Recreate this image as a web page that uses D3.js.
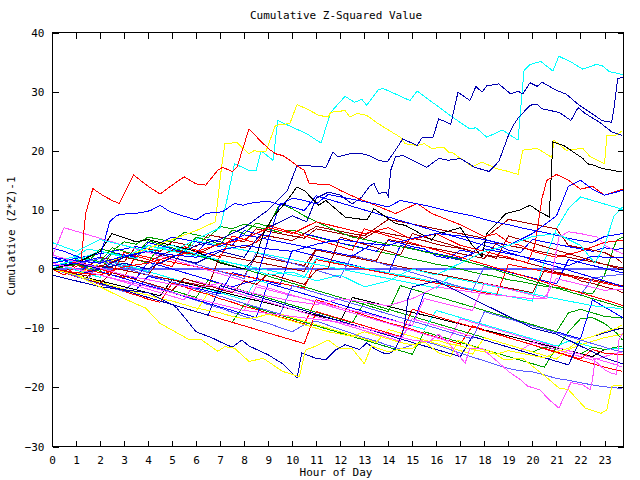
<!DOCTYPE html>
<html><head><meta charset="utf-8">
<script src="https://cdn.jsdelivr.net/npm/d3@7"></script>
<style>body{margin:0;background:#fff}svg{display:block}</style>
</head><body><svg id="c" width="640" height="480"></svg>
<script>
const title = "Cumulative Z-Squared Value";
const xLabel = "Hour of Day";
const yLabel = "Cumulative (Z*Z)-1";
const xTickValues = [0,1,2,3,4,5,6,7,8,9,10,11,12,13,14,15,16,17,18,19,20,21,22,23];
const yTickValues = [-30,-20,-10,0,10,20,30,40];
// half-hour sample times for the bundle series
const halfHours = d3.range(0, 24, 0.5).concat([23.75]);

// prominent series as [hour, value]
const cyanTop = [[0,0.5],[1,1.5],[2,3],[3,2],[4,4],[5,3],[6,5],[7,7],[7.3,12],[7.6,17.8],[8.2,16.7],[8.5,16.7],[8.7,20],[9.2,18.4],[9.4,25.1],[10,24],[10.6,22.9],[11.2,21.3],[11.6,26.5],[12.2,29.2],[12.6,28.2],[12.9,28.7],[13.1,27.7],[13.6,30.4],[13.8,30.5],[14.3,29.6],[14.9,28.5],[15.2,30.1],[15.7,28.6],[16.5,26.2],[16.7,25.6],[17.4,23.7],[17.65,23.9],[18.1,22.3],[18.75,23.5],[19.4,21.8],[19.65,33.6],[19.9,34.6],[20.35,35.1],[20.85,33.5],[21.1,36],[21.65,34.9],[22.1,33.8],[22.65,34.6],[22.9,34.4],[23.2,33.4],[23.75,32.9]];
const yellowTop = [[0,0],[1,-1],[2,1],[3,2],[4,3.5],[5,5],[6,6.5],[6.8,8],[7.05,17],[7.2,21.2],[7.7,21.4],[7.9,20.6],[8.2,19.5],[8.4,20],[8.9,19.8],[9.3,24.3],[9.9,24.6],[10.2,27.8],[10.6,27.1],[11.1,26],[11.5,25.7],[11.6,26.5],[12.2,26.8],[12.4,25.7],[12.7,26.3],[13.1,26],[13.5,24.8],[14.05,23.4],[14.5,22.3],[14.7,21.2],[15.2,20.9],[15.5,21.2],[15.8,20.4],[16.3,20.6],[16.5,19.8],[16.7,19.6],[17.5,17.3],[17.9,18.1],[18.5,17],[19,16.5],[19.4,16],[19.6,20.1],[20.2,20.4],[20.8,18.9],[20.9,21.8],[21.4,20.1],[22.1,20.4],[22.4,19],[23,17.8],[23.1,22.6],[23.45,22.6],[23.75,23.4]];
const navyTop = [[0,0],[1,1],[2,0],[3,2],[4,3],[5,2],[6,4],[7,5],[8,7],[9,10],[9.8,13.3],[10.2,17.5],[11,17.4],[11.4,17.2],[11.7,19.8],[11.9,19],[12.4,19.5],[12.8,19.6],[13.2,19.2],[13.6,18.4],[13.95,18.1],[14.2,19.5],[14.6,22],[15.2,20.9],[15.4,22.2],[15.85,22.2],[16.1,25.4],[16.6,24.5],[16.9,29.9],[17.4,28.5],[17.65,30.9],[17.9,29.9],[18.1,31],[18.6,31.3],[19.1,29.6],[19.4,30.1],[19.6,29.6],[19.9,31.5],[20.2,30.9],[20.4,31.6],[21,30.2],[21.4,29.6],[21.95,27.7],[22.4,26.5],[22.9,25.1],[23.3,24.8],[23.4,27.4],[23.55,32.2],[23.75,32.4]];
const navySecond = [[0,0],[1,-1],[2,0],[3,1],[4,0],[5,2],[6,1],[7,3],[8,2],[8.5,5],[9,7],[10,9],[10.6,8],[11,12],[11.5,13],[12,12.5],[12.5,11],[12.9,12.2],[13.2,13.9],[13.4,14.5],[13.6,12.8],[13.9,13],[14,12.2],[14.1,16.7],[14.3,19],[14.6,19.2],[15.6,17.2],[16.1,18.7],[16.5,18.4],[17,18.7],[17.6,17.2],[18.2,16.5],[18.6,18.2],[19,22.6],[19.2,24.3],[19.4,25.5],[19.9,27.7],[20.2,27.9],[20.4,27.1],[21.1,26.5],[21.3,26],[21.6,25.1],[21.9,27.3],[22.2,26.3],[22.8,24.8],[23.3,23.2],[23.75,22.6]];
const blackJump = [[0,0],[1,1],[2,3],[2.5,6],[3.5,4.6],[4,5],[5,4],[6,3],[7,1],[8,0],[8.5,2.1],[8.8,6],[9.2,8.8],[9.7,11.1],[10.2,13.9],[10.5,13.3],[11.1,10.8],[11.4,11.6],[12.2,8.8],[13.1,8.3],[13.4,10.2],[14.3,7.7],[14.7,7.4],[15.2,6.3],[15.6,5.4],[15.8,4.9],[16,6],[16.4,6.3],[17,7],[17.5,4],[17.9,2.1],[18.1,6],[18.9,9.4],[19.5,10],[19.9,10.8],[20.3,9.7],[20.7,8.8],[20.85,21.5],[21.3,20.9],[21.7,19.8],[22.1,18.7],[22.3,17.8],[22.6,17.5],[22.9,17],[23.75,16.4]];
const redHigh = [[0,0],[0.5,-1],[1.2,1],[1.4,9.4],[1.7,13.6],[2.1,12.5],[2.5,11.6],[2.8,11.1],[3.4,15.9],[4,14],[4.5,12.7],[4.9,13.9],[5.5,15.6],[6,14.4],[6.4,14.2],[6.9,16.7],[7.1,17.2],[7.5,16.5],[7.7,17.2],[8.2,23.7],[8.6,22],[9,20.4],[9.3,19.5],[9.6,19.2],[9.9,18.4],[10.3,17.2],[10.5,16.7],[10.7,14.5],[11.6,14.2],[12,13.3],[12.7,12],[13.1,11.4],[14.3,9.4],[15.2,11.1],[15.8,9.4],[16.5,8.3],[17,7.5],[17.5,6.5],[18,5.5],[18.5,6],[19,4.5],[19.5,4],[20,3],[21,2],[22,3],[23,4.5],[23.75,4.9]];
const blueUpper = [[0,0.5],[1,1],[2,2],[2.4,8],[2.7,9.1],[3.2,9.4],[3.7,9.5],[4.1,9.9],[4.5,10.8],[4.9,9.7],[6,8.3],[6.4,9.4],[7.1,9.7],[7.6,11.1],[7.95,10.8],[8.2,11.1],[9,11.5],[9.5,10.8],[10,12],[10.5,11.6],[11,11],[11.5,12.6],[12,12.2],[12.5,11.8],[13,11.4],[13.5,11],[14,10.5],[14.5,11.6],[15,11.2],[15.5,10.8],[16,10.3],[16.5,9.8],[17,9.4],[17.5,9],[18,8.4],[18.5,7.9],[19,7.5],[19.5,7],[20,6.6],[20.5,6.2],[21,5.7],[21.5,5.2],[22,4.8],[22.5,4.5],[23,5.5],[23.75,6]];
const redRight = [[0,0],[1,-0.6],[2,-1],[3,0.4],[4,1],[5,2.2],[6,3],[7,4.2],[8,5],[9,7],[10,6],[11,8],[12,7],[13,6],[14,7],[15,5],[16,6],[17,4],[18,3],[19,2],[19.8,1],[20.1,4],[20.4,12],[20.6,15],[21,16],[21.5,15],[22,13.5],[22.5,14],[23,12.5],[23.75,13.5]];
const blueRight = [[0,2],[1,1.4],[2,1],[3,2.2],[4,3],[5,2.4],[6,2],[7,3.2],[8,4],[9,3.4],[10,3],[11,4.2],[12,5],[13,4.4],[14,4],[15,5.2],[16,6],[17,5.6],[18,5],[19,4],[20,6],[21,9],[21.5,14],[22,15],[22.5,13.5],[23,12.5],[23.75,13.3]];
const cyanRight = [[0,4.5],[1,3],[2,5],[3,4],[4,3],[5,4],[6,2.5],[7,1.5],[8,0.5],[9,-1],[10,-0.5],[11,-2],[12,-1],[13,-3],[14,-2],[15,0],[16,-1],[17,1],[18,3],[19,4],[20,5.5],[21,6],[22,4],[22.6,1],[23,4],[23.4,9],[23.75,10.5]];
const magentaJump = [[0,2.4],[1,1.2],[2,0.2],[3,-1],[4,-1.8],[5,-2.6],[6,-3.2],[7,-2.4],[8,-3.8],[9,-4.6],[10,-5.4],[11,-6],[12,-5],[13,-5.6],[14,-6.2],[15,-5],[16,-3],[17,-3.6],[18,-4.2],[19,-4.6],[20,-5],[20.6,-5],[20.9,1],[21.1,5.4],[21.5,6.3],[22,6],[22.7,5.4],[23.1,3.8],[23.75,2.6]];
const navyBottom = [[0,-1],[1,-2],[2,-3],[3,-3.5],[4,-4],[5,-6],[5.2,-6.6],[6,-10.6],[6.7,-11.7],[7,-12.3],[7.5,-13.2],[7.9,-12],[8.2,-13],[9,-14.5],[9.6,-16],[10.2,-18.4],[10.4,-14.2],[11,-15.1],[11.4,-15.3],[11.8,-13.7],[12.2,-12.8],[12.8,-13.6],[13.1,-12.5],[13.4,-13.4],[13.8,-14.2],[14.05,-14.3],[14.3,-13.4],[14.6,-10.8],[14.75,-7.5],[14.8,-5.2],[15,-3],[16,-2],[17,-4],[18,-6],[19,-8],[20,-10],[21,-11],[22,-13],[23,-15],[23.75,-16]];
const yellowBottom = [[0,0],[1,-1],[2,-3],[3,-5],[3.9,-6.6],[4.5,-9.2],[5.7,-11.9],[6.2,-11.9],[6.9,-13.9],[7.2,-13.1],[7.6,-13.4],[8.2,-15.6],[8.8,-15.1],[9.6,-17.3],[10.3,-18.2],[10.55,-13.7],[11,-13],[11.5,-12],[12,-13.5],[12.5,-13.5],[13,-16],[13.3,-13],[14,-14],[14.5,-13.5],[15,-13.5],[15.4,-12],[16.1,-14.2],[16.6,-14.8],[16.9,-12],[17.7,-13.4],[18.3,-13.9],[18.8,-15.3],[19.6,-15.1],[20.7,-18.7],[21.1,-20.1],[21.5,-20.4],[22.2,-23.5],[22.85,-24.4],[23.1,-23.8],[23.3,-19.8],[23.75,-19.6]];
const magentaBottom = [[0,1],[2,-1],[4,-3],[6,-5],[8,-7],[10,-8],[12,-9],[13,-10],[14,-11],[15,-12],[15.7,-12.3],[16.1,-11],[16.6,-13],[17.2,-15.9],[17.4,-13.4],[17.9,-13.4],[18.5,-15.5],[19,-17.3],[19.5,-18.7],[19.8,-19.8],[20.3,-20.4],[20.7,-22.1],[21.1,-23.5],[21.6,-19.2],[22.1,-19.6],[22.4,-20.4],[22.5,-18.7],[22.6,-15.5],[23,-17],[23.3,-17.6],[23.5,-17.8],[23.6,-12],[23.75,-10.8]];
const zeroLine = [[0,0],[23.75,0]];

// bundle series, values at halfHours (rows of 10,10,10,10,8 + end)
const c01 = [0,0.8,1.6,1.2,3.4,3,4.6,4.2,5.4,5, 4.6,6.2,5.8,5.3,7.2,6.8,7.6,7.1,6.7,6.2, 6.6,6,5.4,4.9,4.4,3.9,3.5,3,2.6,2.2, 1.7,1.3,0.8,0.5,0,-0.5,-0.9,-1.3,-1.8,-2.1, -2.5,-2.9,-3.1,-3.5,-3.9,-4.2,-1,4.9, 5.4];
const c02 = [0,-0.5,0.8,0.4,2,1.6,1.2,3.8,3.4,3, 4.6,4.2,3.8,5.8,5.4,5,4.6,6.8,6.4,6, 5.6,5.2,6.8,6.4,6,5.6,5.2,6.4,6,5.6, 5.2,4.8,4.2,3.8,3.5,3,2.4,2.1,1.8,1.4, 0.8,0.3,-0.5,-1,-2,-2.4,-3,-3.5, -4];
const c03 = [3.5,3,2.2,1.6,1,2.8,2.4,2,4.5,4, 3.4,3,2.6,5,4.6,4,6.5,6,5.6,5.2, 4.8,6,5.5,5,4.4,4,3.5,3,4.8,4.4, 3.8,3.4,2.2,1.8,3.2,2.8,4.6,4.2,3.2,2.8, 5,4.6,4.2,3.8,3.4,3,3.6,3.3, 3.5];
const c04 = [0,-0.6,-1.3,-1.8,-2.6,-3.1,-3.8,-4.4,-5.1,-5.6, -2.4,-3,-3.7,-4.3,-5,-5.6,-6.3,-6.8,-7.5,-8.1, -8.7,-9.3,-5.2,-5.8,-6.5,-7.1,-7.8,-8.4,-9.1,-9.6, -10.2,-10.9,-11.5,-12.1,-12.7,-9.6,-10.3,-10.9,-11.6,-12.2, -12.8,-13.5,-14.1,-14.7,-15.4,-16,-16.6,-17.1, -17.3];
const c05 = [0,-0.5,-1.1,0.6,0,-0.6,-1.2,-1.8,-2.4,-3, -3.6,-4.2,-4.8,-1.9,-2.5,-3.1,-3.7,-4.3,-4.9,-5.5, -6.1,-6.7,-7.3,-7.9,-8.5,-9.1,-5.6,-6.2,-6.8,-7.4, -8,-8.6,-9.2,-9.8,-10.4,-11,-11.6,-12.2,-12.8,-13.4, -14,-13.2,-13.6,-10.6,-8.4,-8.2,-9.2,-10.8, -12];
const c06 = [0,-0.6,-1.2,-1.9,-2.5,-3.2,-3.8,-1.8,-2.5,-3.2, -3.9,-4.6,-5.3,-6,-6.6,-7.3,-8,-8.6,-9.2,-9.9, -10.6,-9.4,-8.8,-9.5,-10.2,-10.9,-11.6,-12.2,-12.9,-13.5, -12.8,-12.2,-12.8,-13.5,-14.2,-14.9,-15.5,-16.2,-16.8,-17.2, -17.4,-17.9,-18.5,-18.8,-19.2,-19.6,-19.9,-20.1, -20.3];
const c07 = [0,0.4,-0.2,-0.8,-1.4,1.4,0.8,0.2,-0.4,-1, -1.6,-2.2,-2.8,-3.4,-4,-4.6,-5.2,-1.8,-2.4,-3, -3.6,-4.2,-4.8,-5.4,-6,-6.6,-7.2,-7.8,-8.4,-9, -9.6,-10.2,-7,-7.6,-8.2,-8.8,-9.4,-10,-10.6,-11.2, -11.8,-12.4,-13,-12.2,-12.6,-13.2,-13.6,-13.4, -13.4];
const c08 = [0,-0.4,-0.8,-1.2,0.6,0.2,-0.2,-0.6,-1,1.6, 1.2,0.8,0.4,0,-0.4,-0.8,-1.2,2.2,1.8,1.4, 1,0.6,3.4,3,2.6,2.2,1.8,1.4,5,4.6, 4.2,3.8,3.4,3,2.6,2.2,1.8,4.4,4,3.6, 3.2,2.8,2.4,2,1.6,1.2,0.8,0.4, 0.2];
const c09 = [0,-0.5,-1,-1.5,-2,-2.5,-3,-3.5,-1.2,-1.7, -2.2,-2.7,-3.2,-3.7,-4.2,-0.6,-1.1,-1.6,-2.1,-2.6, 3.2,2.7,2.2,1.7,1.2,0.7,0.2,-0.3,-0.8,4, 3.5,3,2.5,2,1.5,1,0.5,0,-0.5,-1, -1.5,-2,-2.5,1.6,1.1,0.6,0.1,-0.4, -0.6];
const c10 = [0,-0.5,-1,-1.5,-2,-2.5,-3,-3.5,-4,-4.5, -1.8,-2.3,-2.8,-3.3,-3.8,-4.3,-4.8,-5.3,-5.8,-6.3, -6.8,-7.3,-7.8,-8.3,-8.8,-4.8,-5.3,-5.8,-6.3,-6.8, -7.3,-7.8,-8.3,-8.8,-9.3,-9.8,-10.3,-10.8,-11.3,-11.8, -12.3,-12.8,-13.3,-13.8,-14.3,-14.8,-13.6,-13.2, -13];
const c11 = [0,-0.6,-1.2,-1.8,-2.4,-3,-3.6,-4.2,-4.8,-5.4, -6,-6.6,-7.2,-4,-4.6,-5.2,-5.8,-6.4,-7,-7.6, -8.2,-8.8,-9.4,-10,-10.6,-11.2,-11.8,-12.4,-10.2,-10.8, -11.4,-12,-12.6,-13.2,-13.8,-14.4,-11.6,-12.2,-12.8,-13.4, -14,-14.6,-15.2,-13.6,-12.8,-12.2,-11.6,-11.2, -11];
const c12 = [1,0.5,0,-0.5,-1,-1.6,-2.2,-2.8,-3.4,-4, -4.6,-5.2,-2,-2.6,-3.2,-3.8,-4.4,-5,-5.6,-6.2, -6.8,-7.4,-8,-8.6,-9.2,-9.8,-10.4,-11,-11.6,-12.2, -8.4,-9,-9.6,-10.2,-10.8,-11.4,-12,-12.6,-13.2,-13.8, -12.4,-13,-13.6,-14.2,-14.8,-15.4,-14.8,-14.2, -14];
const c13 = [0,-0.6,-1.2,-1.8,-2.4,-3,-3.6,-4.2,-4.8,-5.4, -6,-6.6,-7.2,-7.8,-8.4,-9,-6,-6.6,-7.2,-7.8, -8.4,-9,-9.6,-10.2,-10.8,-11.4,-12,-12.6,-13.2,-13.8, -14.4,-10.6,-11.2,-11.8,-12.4,-13,-13.6,-14.2,-14.8,-15.4, -16,-16.6,-13.2,-13.8,-14.4,-13.2,-13.6,-13.2, -13];
const c14 = [0,0.4,0.8,-0.2,-0.6,-1,-1.4,2.4,2,1.6, 1.2,0.8,0.4,0,-0.4,-0.8,-1.2,-1.6,-2,-2.4, -2.8,-3.2,1.6,1.2,0.8,0.4,0,-0.4,-0.8,-1.2, -1.6,-2,-2.4,-2.8,-3.2,-3.6,-4,-4.4,0.8,0.4, 0,-0.4,-0.8,-1.2,-1.6,-2,-2.4,-2.8, -3];
const c15 = [0,1,2,1.6,1.2,0.8,0.4,0,-0.4,2.4, 3,2.6,2.2,1.8,1.4,1,0.6,0.2,-0.2,-0.6, -1,-1.4,1.8,1.4,1,0.6,0.2,-0.2,-0.6,-1, -1.4,-1.8,-2.2,-2.6,-3,-3.4,-3.8,-4.2,-4.6,-5, -5.4,1.4,6.8,10.2,12.2,11.6,11,10.4, 10];
const c16 = [2,1.4,0.8,0.2,-0.4,-1,-1.6,-2.2,-2.8,-3.4, -4,-4.6,-5.2,-5.8,-6.4,-7,-7.6,-8.2,-2.4,-3, -3.6,-4.2,-4.8,-5.4,-6,-6.6,-7.2,-7.8,-8.4,-9, -9.6,-4,-4.6,-5.2,-5.8,-6.4,-7,-7.6,-8.2,-8.8, -9.4,-10,-10.6,-11.2,-11.8,-5.2,-6.4,-7.6, -8.2];
const c17 = [0,-0.4,-0.8,-1.2,0.6,0.2,-0.2,-0.6,-1,-1.4, -1.8,-2.2,-2.6,-3,2.4,2,1.6,1.2,0.8,0.4, 0,-0.4,3.2,2.8,2.4,2,1.6,1.2,0.8,0.4, 0,-0.4,-0.8,-1.2,-1.6,-2,-2.4,-2.8,-3.2,-3.6, -4,-0.2,-0.6,-1,-1.4,-1.8,-2.2,-2.6, -2.8];
const c18 = [2,7,6.4,5.8,5.2,4.6,4,3.4,2.8,2.2, 1.6,1,0.4,-0.2,-0.8,-1.4,-2,-2.6,-3.2,-3.8, -4.4,-5,-5.6,-6.2,-6.8,-7.4,-8,-8.6,-9.2,-9.8, -10.4,-11,-11.6,-12.2,-8.4,-9,-9.6,-10.2,-10.8,-11.4, -12,-12.6,-13.2,-13.8,-14.4,-15,-15.6,-16.2, -16.6];
const c19 = [0,0.4,0.8,1.3,1.8,1.2,0.6,0,-0.6,2.6, 2,1.4,0.8,0.2,-0.4,-1,-1.6,2.8,2.2,1.6, 1,0.4,-0.2,-0.8,-1.4,2.4,1.8,1.2,0.6,0, -0.6,-1.2,-1.8,-2.4,-3,-3.6,0.4,-0.2,-0.8,-1.4, -2,-2.6,-3.2,-3.8,-4.4,-1.6,-1.2,-1, -1];
const c20 = [0,0.4,0.8,0.2,-0.4,2.8,2.2,1.6,1,4.2, 3.6,3,2.4,1.8,1.2,0.6,0,-0.6,-1.2,-1.8, -2.4,-3,-3.6,-4.2,-4.8,-5.4,-6,-6.6,-7.2,-2.8, -3.4,-4,-4.6,-5.2,-5.8,-6.4,-7,-7.6,-8.2,-8.8, -9.4,-10,-10.6,-7.4,-6.8,-7.4,-8,-8.2, -8.3];
const c21 = [0,-0.6,-1.2,-1.8,-2.4,-3,-3.6,-4.2,-4.8,-5.4, -6,-6.6,-7.2,-7.8,-8.4,-9,-9.6,-10.2,-10.8,-11.4, -12,-12.6,-7.2,-7.8,-8.4,-9,-9.6,-10.2,-10.8,-11.4, -6.8,-7.4,-8,-8.6,-9.2,-9.8,-10.4,-11,-11.6,-12.2, -12.8,-13.4,-14,-14.6,-15.2,-13.6,-14.2,-14.4, -14.5];
const c22 = [0,-0.6,-1.2,-1.8,-2.4,-3,-3.6,-4.2,-4.8,-5.4, -6,-6.6,-7.2,-7.8,-2.8,-3.4,-4,-4.6,-5.2,-5.8, -6.4,-7,-7.6,-8.2,-8.8,-9.4,-10,-10.6,-11.2,-11.8, -12.4,-13,-13.6,-14.2,-14.8,-11.4,-12,-12.6,-13.2,-13.8, -14.4,-15,-15.6,-16.2,-12,-11.4,-10.8,-10.2, -10];
const c23 = [0,-0.5,-1,-1.6,-2.2,-2.8,-3.4,-4,-4.4,-5, -5.4,-6,-6.6,-7,-7.4,-8,-8.4,-8.2,-7.6,-8.2, -8.8,-9.4,-10,-10.6,-11,-11.4,-10.6,-11.2,-11.8,-12.4, -12.8,-12.4,-12,-12.6,-13,-13.6,-14,-14.4,-13.8,-14.2, -14.6,-15,-14,-13.4,-12,-11.4,-10.6,-10, -9.4];
const c24 = [1,1.6,2.2,3.4,3,2.6,2.2,1.8,4,3.6, 3.2,2.8,4.8,4.4,4,3.6,3.2,2.8,2.4,2, 1.6,1.2,0.8,0.4,0,-0.4,-0.8,-1.2,-1.6,-2, -2.4,-2.8,-3.2,-1.4,-1.8,-2.2,-2.6,-3,-3.4,-3.8, -4.2,-4.6,-5,-5.4,-5.8,-6.2,-6.4,-6.6, -6.8];
const c25 = [0,0.6,1.2,0.8,0.4,1.2,2,1.6,1.2,2.2, 3.2,2.8,2.4,3.4,4.4,4,3.6,4.6,5.6,5.2, 4.8,6,7.2,6.8,6.4,6,5.6,7,8.4,8, 7.6,7.2,6.8,6.4,6,5.6,5.2,6.8,8.4,8, 7.6,7.2,6.8,4,3.6,3.2,2.8,1.8, 1];
const c26 = [1,1.4,1.8,2.2,2.6,3,3.4,3.8,3.4,4.4, 5.4,5,4.6,4.2,3.8,4.8,5.8,5.4,5,4.6, 4.2,3.8,3.4,3,2.6,2.2,3.4,4.6,4.2,3.8, 3.4,3,2.6,2.2,1.8,2.6,3.4,3,2.6,2.2, 1.8,1.4,1,0.6,1.4,2.2,2,1.9, 1.9];
const c27 = [0,0.6,1.2,1.8,1.2,3.6,3,2.4,4.8,4.2, 3.6,3,5.4,4.8,4.2,6.6,6,7.8,7.2,11.1, 10.2,9,8,7.1,6.2,5.4,5,4.6,4.2,3.8, 3.4,2.9,2.5,2.1,1.6,1,0.5,-0.2,-0.8,-1.4, -2,-2.6,-3.2,-3.8,-4.4,-5,-5.6,-6.2, -6.5];
const c28 = [0,-0.6,-1.2,0.8,0.2,-0.4,-1,-1.6,1.2,0.6, 0,-0.6,-1.2,-1.8,-2.4,-3,-2.4,-1.9,5,11.1, 10.5,9.9,12.4,11.8,11.2,10.6,10,9.4,8.8,8.2, 7.6,7,6.4,5.8,5.2,4.6,4,3.4,2.8,2.2, 1.6,1,0.4,-0.2,-0.8,-1.4,-2,-2.6, -3];
const c29 = [0,-0.6,-1.2,-1.8,-2.4,-0.6,-1.2,-1.8,-2.4,-3, -3.6,-1.6,-2.2,-2.8,-3.4,-4,-2,-2.6,-0.8,-1.4, -2,-2.6,-0.2,0.2,5.4,4.8,4.2,3.6,3,2.4, 6,5.4,4.8,4.2,3.6,3,2.4,1.8,5.6,5, 4.4,3.8,3.2,2.6,2,1.4,0.8,0.2, -0.2];
const c30 = [1,0.5,0,-0.5,-1,-1.5,-2,-2.5,-3,-3.5, -4,-4.5,-5,-5.5,-6,-6.5,-7,-3,-3.5,-4, -4.5,-5,-5.5,-6,-6.5,-7,-7.5,-8,-8.5,-9, -9.5,-5,-5.5,-6,-6.5,-7,-2.4,-2.9,-3.4,-3.9, -4.4,-4.9,-1.6,-2.1,-2.6,-3.1,-3.6,-3.4, -3.5];
const c31 = [0,0.6,1.2,0.6,0,-0.6,2.8,2.2,1.6,1, 0.4,3.8,3.2,2.6,2,5.6,5,4.4,7.4,6.8, 6.2,5.6,5,4.4,3.8,3.2,6.8,6.2,5.6,5, 4.4,3.8,3.2,2.6,2,1.4,0.8,0.2,-0.4,-1, -1.6,-2.2,-2.8,-3.4,-4,-4.6,-5.2,-5.8, -6.2];
const c32 = [0,-0.6,-1.2,-1.8,1.4,0.8,0.2,-0.4,-1,-1.6, -2.2,-2.8,-3.4,-4,-4.6,-5.2,-5.8,-6.4,-7,-7.6, -2.8,-3.4,-4,-4.6,-5.2,-5.8,-6.4,-7,-7.6,-8.2, -8.8,-9.4,-10,-10.6,-11.2,-11.8,-7.2,-7.8,-8.4,-9, -9.6,-10.2,-10.8,-11.4,-12,-12.6,-13.2,-13.8, -14];

const colors = {
  black:"#000000", red:"#ff0000", green:"#00a000", blue:"#0000ff", magenta:"#ff50ff",
  cyan:"#00ffff", darkred:"#a00000", yellow:"#ffff00", navy:"#0000b0", slate:"#5a5aff"
};

const pairSeries = [
  [cyanTop,"cyan"],[yellowTop,"yellow"],[navyTop,"navy"],[navySecond,"navy"],
  [blackJump,"black"],[redHigh,"red"],[blueUpper,"blue"],[redRight,"red"],
  [blueRight,"blue"],[cyanRight,"cyan"],[magentaJump,"magenta"],
  [navyBottom,"navy"],[yellowBottom,"yellow"],[magentaBottom,"magenta"]
];
const bundleSeries = [
  [c01,"green"],[c02,"darkred"],[c03,"blue"],[c04,"red"],[c05,"green"],[c06,"slate"],
  [c07,"cyan"],[c08,"darkred"],[c09,"blue"],[c10,"black"],[c11,"yellow"],[c12,"magenta"],
  [c13,"green"],[c14,"red"],[c15,"cyan"],[c16,"blue"],[c17,"darkred"],[c18,"magenta"],
  [c19,"slate"],[c20,"green"],[c21,"red"],[c22,"navy"],[c23,"yellow"],[c24,"cyan"],
  [c25,"darkred"],[c26,"blue"],[c27,"green"],[c28,"blue"],[c29,"darkred"],[c30,"magenta"],
  [c31,"red"],[c32,"slate"]
];

const L = 52, R = 623, T = 32.5, B = 446.5;
const svg = d3.select("#c");
const x = d3.scaleLinear().domain([0, 23.77]).range([L, R]);
const y = d3.scaleLinear().domain([-30, 40]).range([B, T]);
const font = "'DejaVu Sans Mono', 'Liberation Mono', monospace";

const all = [[zeroLine, "slate", 2]]
  .concat(bundleSeries.map(([v,c]) => [v.map((d,i)=>[halfHours[i], d]).filter(p=>p[0]!==undefined), c, 1]))
  .concat(pairSeries.map(([p,c]) => [p, c, 1]));

svg.append("clipPath").attr("id","pc").append("rect")
  .attr("x",L).attr("y",T).attr("width",R-L+1).attr("height",B-T);

const line = d3.line().x(d=>x(d[0])).y(d=>y(d[1]));
svg.append("g").attr("clip-path","url(#pc)")
  .selectAll("path").data(all).join("path")
  .attr("d", d=>line(d[0]))
  .attr("fill","none")
  .attr("stroke", d=>colors[d[1]])
  .attr("stroke-width", d=>d[2])
  .attr("shape-rendering","crispEdges");

svg.append("rect").attr("x",L+0.5).attr("y",T).attr("width",R-L).attr("height",B-T)
  .attr("fill","none").attr("stroke","#000").attr("stroke-width",1).attr("shape-rendering","crispEdges");

const xb = svg.append("g").attr("transform",`translate(0,${B})`)
  .call(d3.axisBottom(x).tickValues(xTickValues).tickSize(-6).tickPadding(10).tickFormat(d3.format("d")));
const xt = svg.append("g").attr("transform",`translate(0,${T})`)
  .call(d3.axisTop(x).tickValues(xTickValues).tickSize(-6).tickFormat(""));
const yl = svg.append("g").attr("transform",`translate(${L+0.5},0)`)
  .call(d3.axisLeft(y).tickValues(yTickValues).tickSize(-6).tickPadding(8).tickFormat(d3.format("d")));
const yr = svg.append("g").attr("transform",`translate(${R+0.5},0)`)
  .call(d3.axisRight(y).tickValues(yTickValues).tickSize(-6).tickFormat(""));
[xb,xt,yl,yr].forEach(a=>{
  a.select(".domain").remove();
  a.selectAll("line").attr("stroke","#000").attr("shape-rendering","crispEdges");
  a.selectAll("text").attr("font-family",font).attr("font-size","11px").attr("fill","#000");
});

svg.append("text").attr("x",336).attr("y",19).attr("text-anchor","middle")
  .attr("font-family",font).attr("font-size","11px").text(title);
svg.append("text").attr("x",336).attr("y",476).attr("text-anchor","middle")
  .attr("font-family",font).attr("font-size","11px").text(xLabel);
svg.append("text").attr("transform","translate(15,236) rotate(-90)").attr("text-anchor","middle")
  .attr("font-family",font).attr("font-size","11px").text(yLabel);
</script></body></html>
